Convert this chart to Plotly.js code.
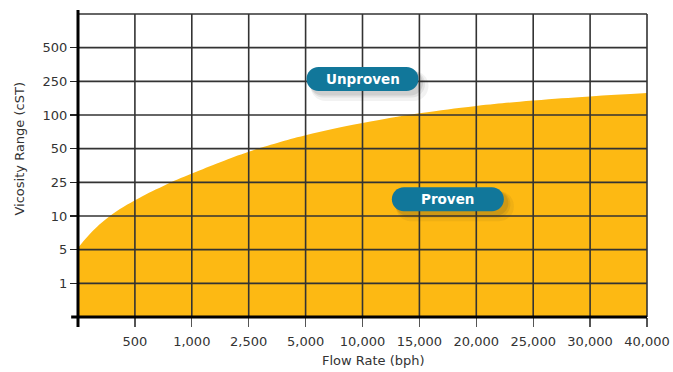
<!DOCTYPE html>
<html>
<head>
<meta charset="utf-8">
<script src="https://cdn.plot.ly/plotly-3.0.1.min.js"></script>
<style>
  html, body { margin: 0; padding: 0; background: #ffffff; }
  #chart { width: 673px; height: 372px; }
</style>
</head>
<body>
<div id="chart"></div>
<script>
// Flow-rate steps shown on the horizontal axis (bph); the origin is 0.
const flowTicks = [500, 1000, 2500, 5000, 10000, 15000, 20000, 25000, 30000, 40000];
// Viscosity steps shown on the vertical axis (cSt); the origin is 0.
const viscosityTicks = [1, 5, 10, 25, 50, 100, 250, 500];

// Upper limit of the proven operating envelope.
const boundaryFlow = [0, 100, 250, 500, 750, 1000, 1750, 2500, 3750, 5000, 10000, 15000, 20000, 25000, 30000, 40000];
const boundaryViscosity = [5.25, 7.25, 9.6, 17, 23.4, 31.5, 40, 47.8, 58.5, 70, 88, 107.5, 140.5, 164.5, 182.5, 197.5];

// Region labels: [text, flow (bph), viscosity (cSt)]
const regionLabels = [
  ['Unproven', 10000, 267],
  ['Proven', 17500, 17.5]
];

// Both axes use evenly spaced steps, so a value is placed by
// interpolating between the neighbouring steps.
function stepScale(steps) {
  const s = [0].concat(steps);
  return function (v) {
    for (let i = 1; i < s.length; i++) {
      if (v <= s[i]) return (i - 1) + (v - s[i - 1]) / (s[i] - s[i - 1]);
    }
    const n = s.length - 1;
    return n + (v - s[n]) / (s[n] - s[n - 1]);
  };
}
const xPos = stepScale(flowTicks);
const yPos = stepScale(viscosityTicks);

const xMax = flowTicks.length;          // 10 columns
const yMax = viscosityTicks.length + 1; // 9 rows (one empty row above 500)

const fmt = v => v.toLocaleString('en-US');

const envelope = {
  type: 'scatter',
  mode: 'lines',
  x: boundaryFlow.map(xPos),
  y: boundaryViscosity.map(yPos),
  line: { shape: 'spline', smoothing: 1.2, width: 0, color: '#FDB913' },
  fill: 'tozeroy',
  fillcolor: '#FDB913',
  hoverinfo: 'skip',
  showlegend: false
};

const gridColor = '#333333';
const shapes = [];

// Grid drawn over the filled area
for (let i = 1; i <= xMax; i++) {
  shapes.push({
    type: 'line', layer: 'above', xref: 'paper', yref: 'paper',
    x0: i / xMax, x1: i / xMax, y0: 0, y1: 1,
    line: { color: gridColor, width: 1.6 }
  });
}
for (let j = 1; j <= yMax; j++) {
  shapes.push({
    type: 'line', layer: 'above', xref: 'paper', yref: 'paper',
    x0: 0, x1: 1, y0: j / yMax, y1: j / yMax,
    line: { color: gridColor, width: 1.6 }
  });
}
// Heavy axis lines
shapes.push({
  type: 'line', layer: 'above', xref: 'paper', yref: 'paper',
  x0: 0, x1: 0, y0: -0.033, y1: 1.013,
  line: { color: '#000000', width: 3 }
});
shapes.push({
  type: 'line', layer: 'above', xref: 'paper', yref: 'paper',
  x0: -0.012, x1: 1, y0: 0, y1: 0,
  line: { color: '#000000', width: 3 }
});

// Rounded label badges with a soft shadow
function pillPath(w, h, dx, dy) {
  const r = h / 2, k = r * 0.5523, a = w / 2 - r;
  const L = -a + dx, R = a + dx, T = -r + dy, B = r + dy;
  return `M ${L},${T} L ${R},${T} ` +
    `C ${R + k},${T} ${R + r},${dy - k} ${R + r},${dy} ` +
    `C ${R + r},${dy + k} ${R + k},${B} ${R},${B} ` +
    `L ${L},${B} ` +
    `C ${L - k},${B} ${L - r},${dy + k} ${L - r},${dy} ` +
    `C ${L - r},${dy - k} ${L - k},${T} ${L},${T} Z`;
}

const annotations = [];
regionLabels.forEach(([text, flow, visc]) => {
  const ax = xPos(flow), ay = yPos(visc);
  const shadowSteps = [[7, 30, 0.06], [5, 27, 0.08], [4, 25, 0.10]];
  shadowSteps.forEach(([off, h, op]) => {
    shapes.push({
      type: 'path', layer: 'above', xref: 'x', yref: 'y',
      xsizemode: 'pixel', ysizemode: 'pixel', xanchor: ax, yanchor: ay,
      path: pillPath(112 + (h - 24), h, off, -off),
      fillcolor: 'rgba(40,40,40,' + op + ')', line: { width: 0 }
    });
  });
  shapes.push({
    type: 'path', layer: 'above', xref: 'x', yref: 'y',
    xsizemode: 'pixel', ysizemode: 'pixel', xanchor: ax, yanchor: ay,
    path: pillPath(112, 24, 0, 0),
    fillcolor: '#11779A', line: { width: 0 }
  });
  annotations.push({
    x: ax, y: ay, xref: 'x', yref: 'y', text: '<b>' + text + '</b>',
    showarrow: false, xanchor: 'center', yanchor: 'middle',
    font: { family: 'DejaVu Sans', size: 13.5, color: '#ffffff' }
  });
});

// Axis titles
annotations.push({
  xref: 'paper', yref: 'paper', x: 0.52, y: -0.142,
  xanchor: 'center', yanchor: 'middle', showarrow: false,
  text: 'Flow Rate (bph)',
  font: { family: 'DejaVu Sans', size: 13, color: '#333333' }
});
annotations.push({
  xref: 'paper', yref: 'paper', x: -0.102, y: 0.556,
  xanchor: 'center', yanchor: 'middle', showarrow: false, textangle: -90,
  text: 'Vicosity Range (cST)',
  font: { family: 'DejaVu Sans', size: 13, color: '#333333' }
});

const layout = {
  width: 673, height: 372,
  margin: { l: 78, r: 26, t: 14, b: 55 },
  paper_bgcolor: '#ffffff', plot_bgcolor: '#ffffff',
  font: { family: 'DejaVu Sans', color: '#333333' },
  showlegend: false,
  xaxis: {
    range: [0, xMax], showgrid: false, zeroline: false, showline: false,
    tickmode: 'array',
    tickvals: flowTicks.map(xPos), ticktext: flowTicks.map(fmt),
    ticks: 'outside', ticklen: 9, tickwidth: 1.3, tickcolor: '#555555',
    ticklabelstandoff: 3,
    tickfont: { family: 'DejaVu Sans', size: 13, color: '#333333' },
    fixedrange: true
  },
  yaxis: {
    range: [0, yMax], showgrid: false, zeroline: false, showline: false,
    tickmode: 'array',
    tickvals: viscosityTicks.map(yPos), ticktext: viscosityTicks.map(fmt),
    ticks: 'outside', ticklen: 7, tickwidth: 1.6, tickcolor: '#222222',
    tickfont: { family: 'DejaVu Sans', size: 13, color: '#333333' },
    fixedrange: true
  },
  shapes: shapes,
  annotations: annotations
};

Plotly.newPlot('chart', [envelope], layout, { displayModeBar: false, staticPlot: true });
</script>
</body>
</html>
